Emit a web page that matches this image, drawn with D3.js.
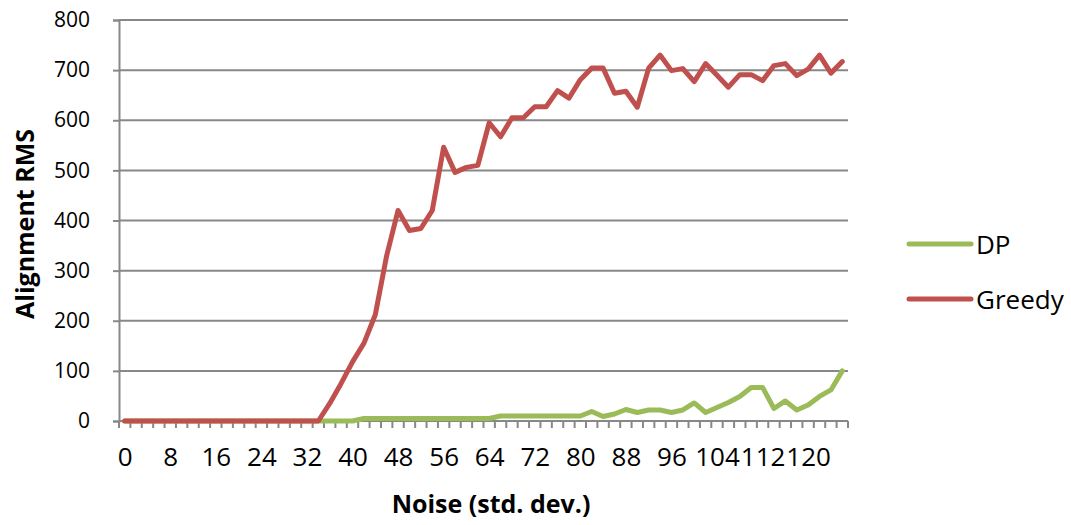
<!DOCTYPE html>
<html>
<head>
<meta charset="utf-8">
<script src="https://cdn.jsdelivr.net/npm/d3@7"></script>
<style>
  html, body { margin: 0; padding: 0; background: #fff; }
  svg { display: block; font-family: "Open Sans", "Lato", sans-serif; }
</style>
</head>
<body>
<svg id="chart" width="1071" height="525"></svg>
<script>
// Noise level (std. dev.) for each run
const noise = [0, 2, 4, 6, 8, 10, 12, 14, 16, 18, 20, 22, 24, 26, 28, 30,
  32, 34, 36, 38, 40, 42, 44, 46, 48, 50, 52, 54, 56, 58, 60, 62,
  64, 66, 68, 70, 72, 74, 76, 78, 80, 82, 84, 86, 88, 90, 92, 94,
  96, 98, 100, 102, 104, 106, 108, 110, 112, 114, 116, 118, 120, 122, 124, 126];

// Alignment RMS, dynamic-programming aligner
const dpValues = [0, 0, 0, 0, 0, 0, 0, 0, 0, 0, 0, 0, 0, 0, 0, 0,
  0, 0, 0, 0, 0, 5, 5, 5, 5, 5, 5, 5, 5, 5, 5, 5,
  5, 10, 10, 10, 10, 10, 10, 10, 10, 19, 9, 14, 23, 17, 22, 22,
  17, 22, 36, 17, 27, 37, 49, 67, 67, 25, 40, 22, 32, 49, 62, 100];

// Alignment RMS, greedy aligner
const greedyValues = [0, 0, 0, 0, 0, 0, 0, 0, 0, 0, 0, 0, 0, 0, 0, 0,
  0, 0, 35, 75, 118, 155, 212, 330, 420, 380, 384, 420, 546, 496, 506, 510,
  595, 567, 605, 605, 627, 627, 659, 644, 681, 704, 704, 654, 658, 626, 704, 730,
  699, 703, 677, 713, 690, 666, 691, 691, 679, 709, 713, 689, 702, 730, 694, 717];

const yTicks = [0, 100, 200, 300, 400, 500, 600, 700, 800];
const xLabels = [0, 8, 16, 24, 32, 40, 48, 56, 64, 72, 80, 88, 96, 104, 112, 120];

const seriesNames = ["DP", "Greedy"];
const seriesColors = ["#9BBB59", "#C0504D"];

const svg = d3.select("#chart");
const plotLeft = 119, plotRight = 848, plotTop = 20, plotBottom = 421;
const gridColor = "#888888";

const x = d3.scaleBand().domain(noise).range([plotLeft, plotRight]).padding(0);
const y = d3.scaleLinear().domain([0, 800]).range([plotBottom, plotTop]);
const cx = d => x(d) + x.bandwidth() / 2;

// horizontal gridlines
svg.append("g")
  .selectAll("line")
  .data(yTicks.filter(v => v > 0))
  .join("line")
  .attr("x1", plotLeft).attr("x2", plotRight)
  .attr("y1", d => y(d)).attr("y2", d => y(d))
  .attr("stroke", gridColor).attr("stroke-width", 2);

// y axis
const yAxis = svg.append("g")
  .attr("transform", `translate(${plotLeft},0)`)
  .call(d3.axisLeft(y).tickValues(yTicks).tickSize(6).tickPadding(23));
yAxis.select(".domain").attr("stroke", gridColor).attr("stroke-width", 2);
yAxis.selectAll(".tick line").attr("stroke", gridColor).attr("stroke-width", 2);
yAxis.selectAll(".tick text")
  .attr("font-family", "'Open Sans', sans-serif")
  .attr("font-size", 21).attr("fill", "#000");

// x axis line with tick marks at category boundaries
const xAxis = svg.append("g");
xAxis.append("line")
  .attr("x1", plotLeft).attr("x2", plotRight)
  .attr("y1", plotBottom).attr("y2", plotBottom)
  .attr("stroke", gridColor).attr("stroke-width", 2);
xAxis.selectAll("line.tk")
  .data(noise.map(d => x(d)).concat([plotRight]))
  .join("line")
  .attr("class", "tk")
  .attr("x1", d => d).attr("x2", d => d)
  .attr("y1", plotBottom).attr("y2", plotBottom + 7)
  .attr("stroke", gridColor).attr("stroke-width", 2);

// x labels (every fourth category)
const xLab = svg.append("g")
  .attr("transform", `translate(0,${plotBottom})`)
  .call(d3.axisBottom(d3.scalePoint().domain(noise).range([cx(noise[0]), cx(noise[noise.length - 1])]))
    .tickValues(xLabels).tickSize(0).tickPadding(27));
xLab.select(".domain").remove();
xLab.selectAll(".tick text")
  .attr("font-family", "'Open Sans', sans-serif")
  .attr("font-size", 26).attr("fill", "#000");

// series lines
const line = d3.line()
  .x((d, i) => cx(noise[i]))
  .y(d => y(d));

[dpValues, greedyValues].forEach((vals, k) => {
  svg.append("path")
    .datum(vals)
    .attr("d", line)
    .attr("fill", "none")
    .attr("stroke", seriesColors[k])
    .attr("stroke-width", 5)
    .attr("stroke-linejoin", "round")
    .attr("stroke-linecap", "round");
});

// axis titles
svg.append("text")
  .attr("x", 491).attr("y", 513)
  .attr("text-anchor", "middle")
  .attr("font-weight", "bold").attr("font-size", 25)
  .text("Noise (std. dev.)");

svg.append("text")
  .attr("transform", "translate(34,224) rotate(-90)")
  .attr("text-anchor", "middle")
  .attr("font-weight", "bold").attr("font-size", 25)
  .text("Alignment RMS");

// legend
const legendY = [244, 299];
const legend = svg.append("g");
seriesNames.forEach((name, k) => {
  legend.append("line")
    .attr("x1", 909).attr("x2", 971)
    .attr("y1", legendY[k]).attr("y2", legendY[k])
    .attr("stroke", seriesColors[k]).attr("stroke-width", 5)
    .attr("stroke-linecap", "round");
  legend.append("text")
    .attr("x", 976).attr("y", legendY[k] + 10)
    .attr("font-size", 26).attr("fill", "#000")
    .text(name);
});
</script>
</body>
</html>
